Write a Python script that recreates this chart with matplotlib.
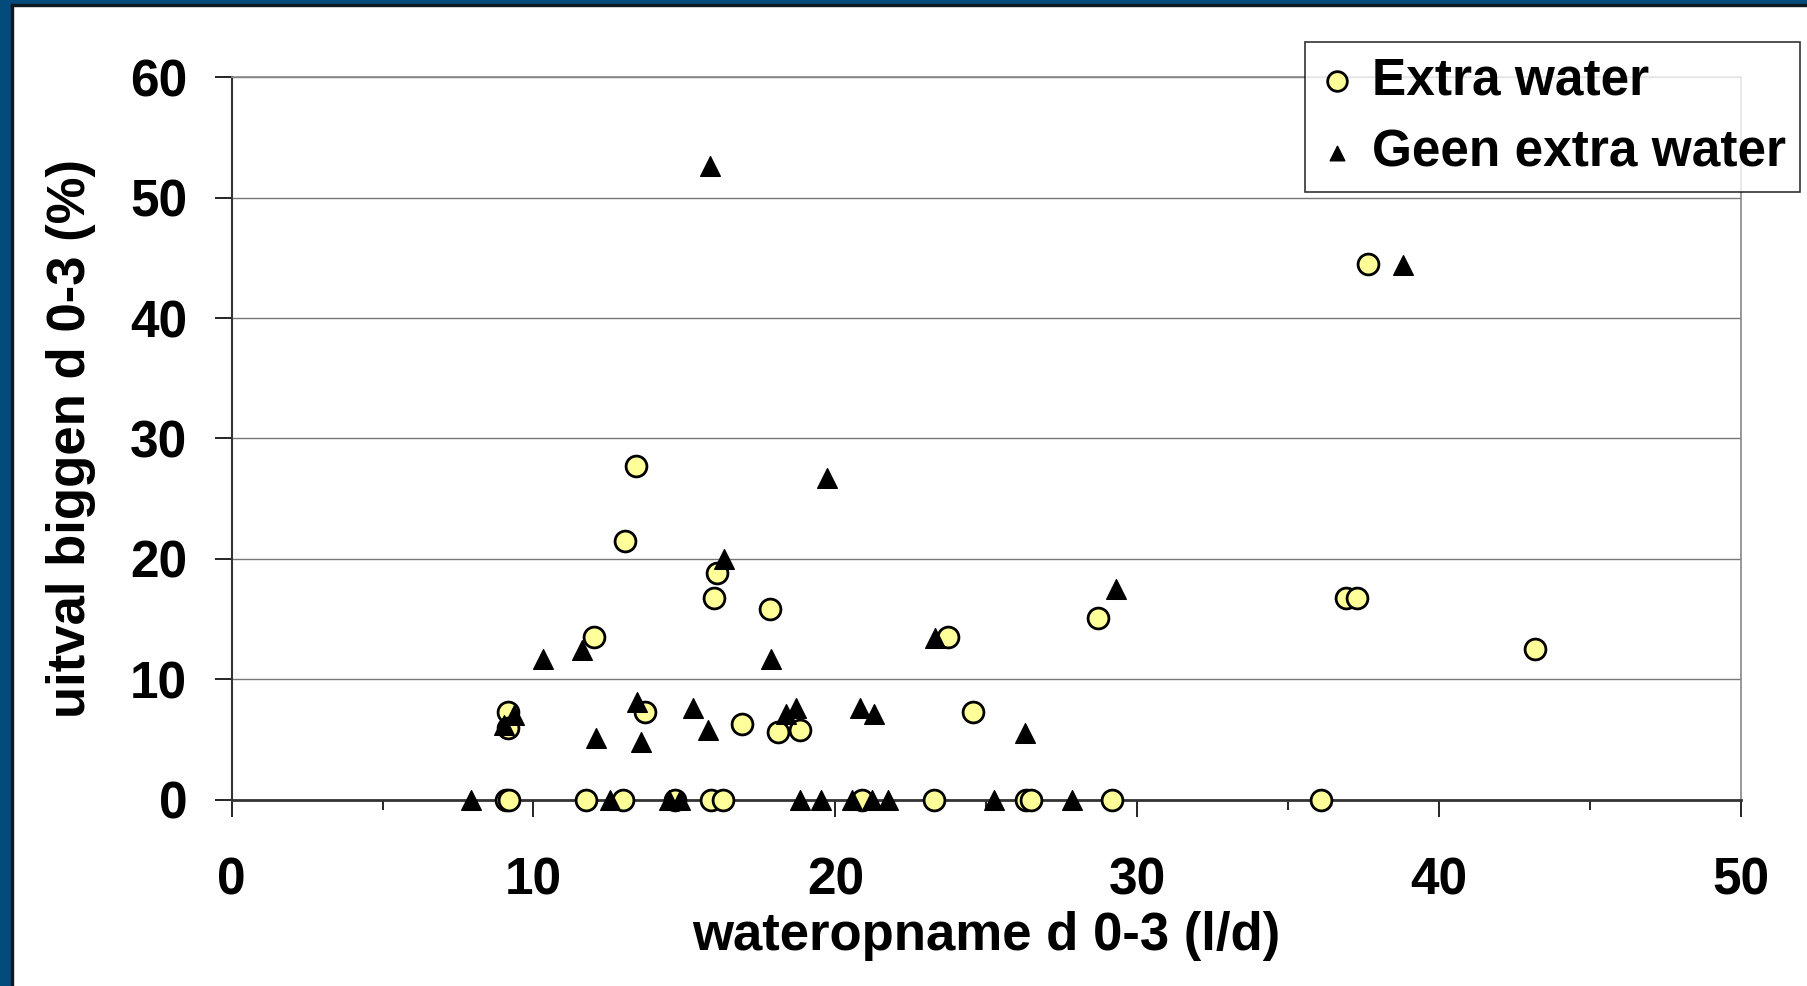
import matplotlib
matplotlib.use("Agg")
import matplotlib.pyplot as plt
from matplotlib.patches import Rectangle
from matplotlib.ticker import MultipleLocator

plt.rcParams['font.family'] = ['Liberation Sans', 'DejaVu Sans']
plt.rcParams['font.weight'] = 'bold'

# ---- data ----
extra_x = [9.10, 9.20, 11.75, 12.95, 14.70, 15.88, 16.28, 20.87, 23.27, 26.32, 26.48, 29.17, 36.08,
           9.15, 9.15, 12.02, 13.04, 13.40, 13.68, 15.99, 16.08, 16.91, 17.82, 18.10, 18.84,
           23.72, 24.57, 28.71, 36.92, 37.29, 37.64, 43.18]
extra_y = [0, 0, 0, 0, 0, 0, 0, 0, 0, 0, 0, 0, 0,
           7.3, 5.9, 13.5, 21.5, 27.7, 7.3, 16.7, 18.8, 6.3, 15.8, 5.6, 5.8,
           13.5, 7.3, 15.1, 16.7, 16.7, 44.5, 12.5]

geen_x = [7.92, 12.54, 14.50, 14.86, 18.82, 19.54, 20.55, 21.20, 21.75, 25.25, 27.84,
          9.04, 9.34, 10.31, 11.61, 12.08, 13.43, 13.55, 15.28, 15.77, 15.85, 16.32,
          17.88, 18.35, 18.71, 19.72, 20.81, 21.27, 23.31, 26.27, 29.31, 38.82]
geen_y = [0, 0, 0, 0, 0, 0, 0, 0, 0, 0, 0,
          6.2, 7.0, 11.7, 12.4, 5.1, 8.1, 4.8, 7.6, 5.8, 52.6, 20.0,
          11.7, 7.1, 7.6, 26.7, 7.6, 7.1, 13.4, 5.5, 17.5, 44.4]

labels = ['Extra water', 'Geen extra water']
x_label = 'wateropname d 0-3 (l/d)'
y_label = 'uitval biggen d 0-3 (%)'

W, H = 1807, 986
fig = plt.figure(figsize=(W / 100, H / 100), dpi=100, facecolor='white')

# frame strips (left and top)
blue = '#034b7b'
fig.patches.append(Rectangle((0, 0), 11 / W, 1, transform=fig.transFigure, color=blue, zorder=0))
fig.patches.append(Rectangle((0, 1 - 4 / H), 1, 4 / H, transform=fig.transFigure, color=blue, zorder=0))
fig.patches.append(Rectangle((11 / W, 0), 1.5 / W, 1 - 4 / H, transform=fig.transFigure, color='#101820', zorder=0))
fig.patches.append(Rectangle((11 / W, 1 - 5.5 / H), 1 - 11 / W, 1.5 / H, transform=fig.transFigure, color='#101820', zorder=0))

left, right = 231.6, 1741.0
y0px, y60px = 799.5, 77.3
ax = fig.add_axes([left / W, (H - y0px) / H, (right - left) / W, (y0px - y60px) / H])
ax.set_xlim(0, 50)
ax.set_ylim(0, 60)

ax.xaxis.set_major_locator(MultipleLocator(10))
ax.xaxis.set_minor_locator(MultipleLocator(5))
ax.yaxis.set_major_locator(MultipleLocator(10))

ax.yaxis.grid(True, color='#777777', linewidth=1.0)
ax.set_axisbelow(True)

for s in ['top', 'right']:
    ax.spines[s].set_color('#888888')
    ax.spines[s].set_linewidth(1.2)
ax.spines['left'].set_color('#333333')
ax.spines['left'].set_linewidth(1.5)
ax.spines['bottom'].set_color('#333333')
ax.spines['bottom'].set_linewidth(2.0)

ax.tick_params(axis='x', which='major', direction='out', length=12, width=1.2, colors='black',
               labelsize=37, pad=29)
ax.tick_params(axis='x', which='minor', direction='out', length=7, width=1.2, colors='black')
ax.tick_params(axis='y', which='major', direction='out', length=12, width=1.2, colors='black',
               labelsize=37, pad=20)
for lab in ax.get_xticklabels() + ax.get_yticklabels():
    lab.set_fontweight('bold')

ax.scatter(extra_x, extra_y, s=225, marker='o', facecolor='#ffff99', edgecolor='black',
           linewidth=2.0, zorder=3, label=labels[0], clip_on=False)
ax.scatter(geen_x, geen_y, s=200, marker='^', facecolor='black', edgecolor='black',
           linewidth=1.0, zorder=4, label=labels[1], clip_on=False)

leg = ax.legend(loc='upper right', bbox_to_anchor=(1800 / W, 1 - 42 / H),
                bbox_transform=fig.transFigure, frameon=True, fancybox=False,
                prop={'size': 37, 'weight': 'bold'}, borderpad=0.28, handlelength=0.7,
                handletextpad=0.32, labelspacing=0.45, borderaxespad=0)
leg.get_frame().set_edgecolor('black')
leg.get_frame().set_linewidth(1.2)
hs = leg.legend_handles
hs[0].set_sizes([200])
hs[1].set_sizes([110])

fig.text(((left + right) / 2) / W, 1 - 950 / H, x_label, ha='center', va='baseline',
         fontsize=38, fontweight='bold')
fig.text(85 / W, 1 - ((y0px + y60px) / 2) / H, y_label, ha='center', va='baseline',
         rotation=90, rotation_mode='anchor', fontsize=38, fontweight='bold')

fig.savefig('out.png', dpi=100, facecolor='white')
